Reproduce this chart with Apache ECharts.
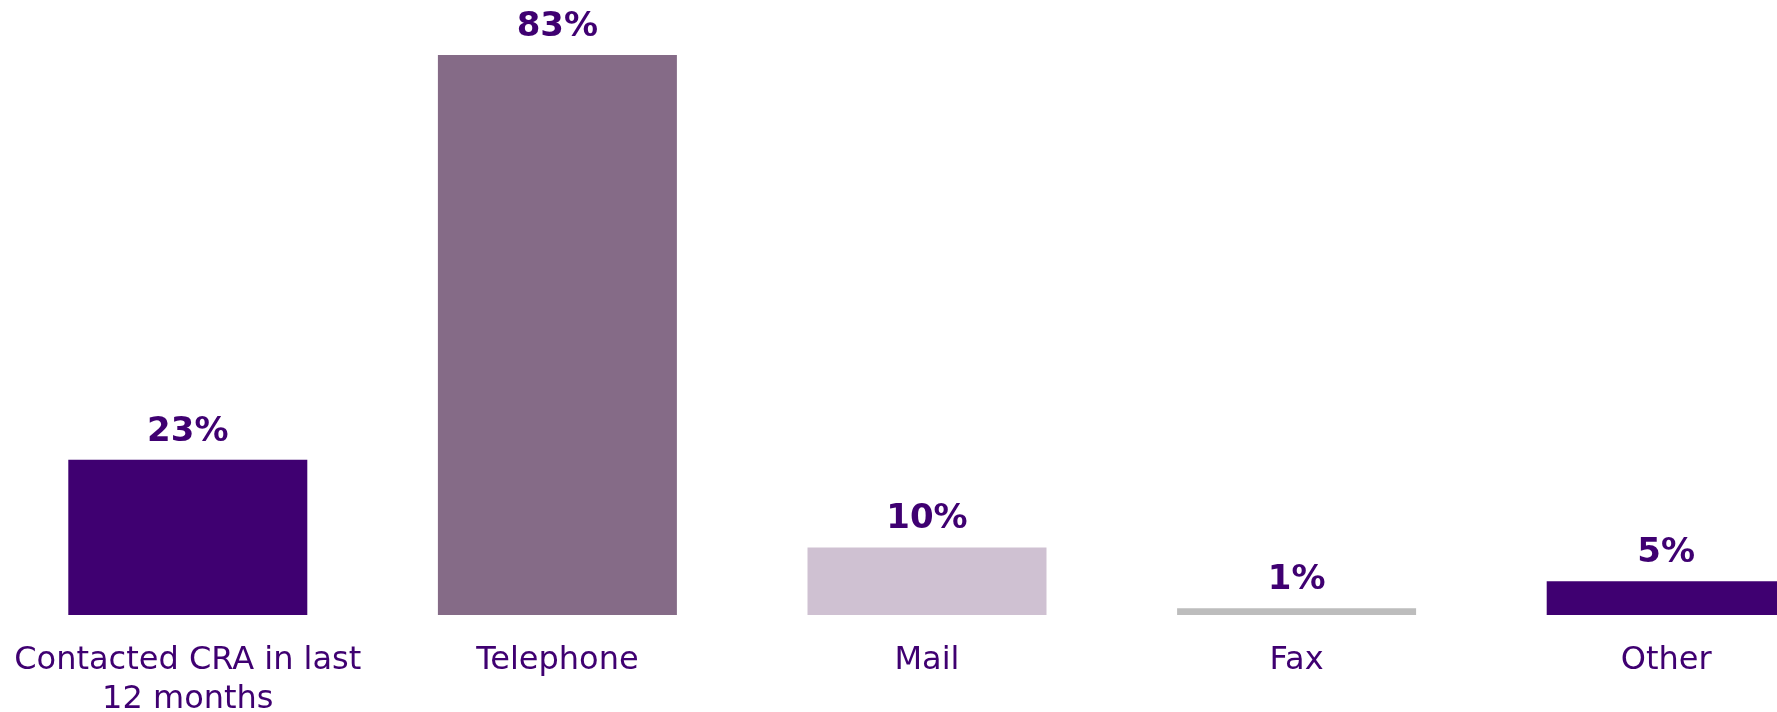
<!DOCTYPE html>
<html>
<head>
<meta charset="utf-8">
<script src="https://cdn.jsdelivr.net/npm/echarts@6/dist/echarts.min.js"></script>
<style>
  html, body { margin: 0; padding: 0; background: #ffffff; }
  #chart { width: 1777px; height: 712px; }
</style>
</head>
<body>
<div id="chart"></div>
<script>
// Ways of contacting the CRA (share of respondents, %)
const categories = ['Contacted CRA in last\n12 months', 'Telephone', 'Mail', 'Fax', 'Other'];
const values = [23, 83, 10, 1, 5];
const barColors = ['#3f0071', '#856b87', '#cfc1d2', '#bdbdbd', '#3f0071'];

const textColor = '#3f0071';

const chart = echarts.init(document.getElementById('chart'));

chart.setOption({
  backgroundColor: '#ffffff',
  animation: false,
  grid: {
    left: 3, top: 55, width: 1848, height: 560,
    containLabel: false,
    outerBoundsMode: 'none'
  },
  xAxis: {
    type: 'category',
    data: categories,
    axisLine: { show: false },
    axisTick: { show: false },
    axisLabel: {
      interval: 0,
      margin: 26,
      color: textColor,
      fontFamily: '"DejaVu Sans", Verdana, sans-serif',
      fontSize: 32,
      lineHeight: 39,
      hideOverlap: false
    }
  },
  yAxis: {
    type: 'value',
    min: 0,
    max: 83,
    show: false,
    splitLine: { show: false }
  },
  series: [{
    type: 'bar',
    barWidth: 239,
    data: values.map((v, i) => ({ value: v, itemStyle: { color: barColors[i] } })),
    label: {
      show: true,
      position: 'top',
      distance: 11,
      formatter: '{c}%',
      color: textColor,
      fontFamily: '"DejaVu Sans", Verdana, sans-serif',
      fontWeight: 'bold',
      fontSize: 34
    }
  }]
});
</script>
</body>
</html>
